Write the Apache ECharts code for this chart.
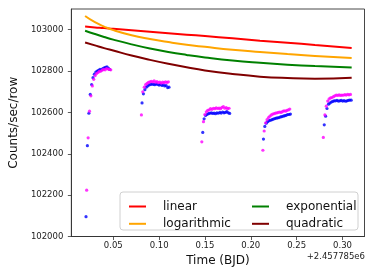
<!DOCTYPE html>
<html>
<head>
<meta charset="utf-8">
<script src="https://cdn.jsdelivr.net/npm/echarts@6/dist/echarts.min.js"></script>
<style>html,body{margin:0;padding:0;background:#fff}#c{width:374px;height:272px}</style>
</head>
<body>
<div id="c"></div>
<script>
// ---- data (time offsets from 2.457785e6 BJD, counts/sec/row) ----
var blueTimes = [
 0.0203,0.0218,0.0234,0.0249,0.0264,0.0279,0.0294,0.0310,0.0325,0.0340,0.0355,0.0370,0.0386,0.0401,0.0416,0.0431,0.0446,0.0461,
 0.0814,0.0829,0.0845,0.0860,0.0876,0.0891,0.0907,0.0922,0.0938,0.0953,0.0969,0.0984,0.1000,0.1015,0.1031,0.1046,0.1062,0.1077,0.1093,0.1108,
 0.1476,0.1491,0.1507,0.1522,0.1538,0.1553,0.1569,0.1584,0.1600,0.1615,0.1631,0.1646,0.1662,0.1677,0.1693,0.1708,0.1724,0.1739,0.1755,0.1770,
 0.2138,0.2153,0.2169,0.2184,0.2200,0.2215,0.2231,0.2246,0.2262,0.2277,0.2293,0.2308,0.2324,0.2339,0.2355,0.2370,0.2386,0.2401,0.2417,0.2432,
 0.2801,0.2816,0.2831,0.2847,0.2862,0.2878,0.2893,0.2909,0.2924,0.2940,0.2955,0.2971,0.2986,0.3002,0.3017,0.3033,0.3048,0.3064,0.3079,0.3095
];
var blueValues = [
 102096,102439,102596,102687,102735,102768,102785,102795,102800,102803,102808,102806,102812,102815,102818,102820,102814,102808,
 102646,102690,102710,102722,102728,102733,102735,102737,102736,102734,102738,102735,102732,102736,102730,102733,102728,102730,102720,102722,
 102503,102569,102585,102590,102594,102596,102598,102595,102597,102594,102598,102596,102600,102597,102602,102598,102600,102604,102598,102595,
 102471,102532,102548,102555,102560,102562,102565,102568,102570,102572,102574,102575,102578,102580,102582,102584,102586,102590,102590,102592,
 102540,102582,102619,102640,102645,102650,102653,102656,102656,102658,102655,102656,102658,102655,102657,102654,102656,102658,102660,102659
];
var magentaTimes = [
 0.0210,0.0226,0.0241,0.0256,0.0272,0.0287,0.0303,0.0318,0.0334,0.0349,0.0365,0.0380,0.0396,0.0411,0.0427,0.0442,0.0458,0.0473,
 0.0807,0.0822,0.0838,0.0853,0.0869,0.0884,0.0900,0.0915,0.0931,0.0946,0.0962,0.0977,0.0993,0.1008,0.1024,0.1039,0.1055,0.1070,0.1086,0.1101,
 0.1466,0.1484,0.1499,0.1515,0.1530,0.1546,0.1561,0.1577,0.1592,0.1608,0.1623,0.1639,0.1654,0.1670,0.1685,0.1701,0.1716,0.1732,0.1747,0.1763,
 0.2132,0.2146,0.2162,0.2177,0.2193,0.2208,0.2224,0.2239,0.2255,0.2270,0.2286,0.2301,0.2317,0.2332,0.2348,0.2363,0.2379,0.2394,0.2410,0.2425,
 0.2791,0.2808,0.2823,0.2839,0.2854,0.2870,0.2885,0.2901,0.2916,0.2932,0.2947,0.2963,0.2978,0.2994,0.3009,0.3025,0.3040,0.3056,0.3071,0.3087
];
var magentaValues = [
 102224,102477,102606,102680,102728,102760,102778,102788,102793,102798,102800,102804,102808,102806,102812,102810,102808,102806,
 102588,102700,102722,102735,102740,102745,102748,102750,102748,102752,102746,102749,102744,102747,102742,102746,102744,102748,102745,102748,
 102458,102555,102590,102603,102610,102612,102618,102615,102620,102618,102622,102619,102621,102618,102624,102628,102620,102623,102618,102620,
 102417,102510,102550,102565,102575,102582,102588,102592,102594,102597,102598,102600,102602,102600,102605,102608,102606,102610,102612,102616,
 102479,102588,102630,102655,102665,102670,102672,102676,102680,102684,102682,102685,102682,102684,102683,102686,102684,102687,102685,102687
];
var fitTimes = [0.0193,0.03,0.04,0.05,0.07,0.09,0.11,0.13,0.15,0.18,0.21,0.24,0.27,0.31];
var linearValues      = [103015,103011,103008,103004,102997,102990,102983,102976,102969,102958,102947,102937,102926,102912];
var logarithmicValues = [103066,103036,103015,102998,102973,102955,102940,102927,102917,102903,102892,102882,102873,102863];
var exponentialValues = [102995,102979,102965,102952,102929,102909,102892,102878,102866,102851,102840,102831,102824,102817];
var quadraticValues   = [102938,102924,102911,102899,102875,102854,102835,102818,102803,102786,102773,102766,102763,102768];
var xTicks = [0.05,0.10,0.15,0.20,0.25,0.30];
var yTicks = [102000,102200,102400,102600,102800,103000];
var fitNames = ['linear','logarithmic','exponential','quadratic'];
var fitColors = ['#ff0000','#ffa500','#008000','#800000'];

function zip(a,b){var r=[];for(var i=0;i<a.length;i++)r.push([a[i],b[i]]);return r;}

var fitSets = [linearValues, logarithmicValues, exponentialValues, quadraticValues];
var series = [
 {type:'scatter',name:'blue',data:zip(blueTimes,blueValues),symbolSize:3.2,itemStyle:{color:'#0000ff'},silent:true,z:2},
 {type:'scatter',name:'magenta',data:zip(magentaTimes,magentaValues),symbolSize:3.2,itemStyle:{color:'#ff00ff'},silent:true,z:2}
];
fitNames.forEach(function(n,i){
  series.push({type:'line',name:n,data:zip(fitTimes,fitSets[i]),smooth:true,showSymbol:false,symbol:'none',
    lineStyle:{color:fitColors[i],width:2},itemStyle:{color:fitColors[i]},z:3});
});

var chart = echarts.init(document.getElementById('c'),null,{renderer:'canvas'});
chart.setOption({
  animation:false,
  backgroundColor:'#fff',
  grid:{left:59,right:9.5,top:9,bottom:35.5,show:true,borderColor:'#333',borderWidth:0.9,backgroundColor:'transparent'},
  xAxis:{type:'value',min:0.0043,max:0.324,
    axisLine:{show:true,onZero:false,lineStyle:{color:'#333',width:0.9}},
    axisTick:{show:true,customValues:xTicks,length:3.5,lineStyle:{color:'#333',width:0.8}},
    axisLabel:{customValues:xTicks,margin:4.5,formatter:function(v){return v.toFixed(2);},
      fontFamily:'DejaVu Sans',fontSize:8.5,color:'#222'},
    splitLine:{show:false},
    name:'Time (BJD)',nameLocation:'middle',nameGap:14.5,
    nameTextStyle:{fontFamily:'DejaVu Sans',fontSize:12,color:'#111'}},
  yAxis:{type:'value',min:102000,max:103100,
    axisLine:{show:true,onZero:false,lineStyle:{color:'#333',width:0.9}},
    axisTick:{show:true,customValues:yTicks,length:3.5,lineStyle:{color:'#333',width:0.8}},
    axisLabel:{customValues:yTicks,margin:8,formatter:function(v){return String(Math.round(v));},
      fontFamily:'DejaVu Sans',fontSize:8.5,color:'#222'},
    splitLine:{show:false},
    name:'Counts/sec/row',nameLocation:'middle',nameGap:42,
    nameTextStyle:{fontFamily:'DejaVu Sans',fontSize:12,color:'#111'}},
  legend:[
    {data:['linear','logarithmic'],orient:'vertical',left:124,top:194.5,itemWidth:17,itemHeight:2,itemGap:3.3,
     icon:'rect',z:6,textStyle:{fontFamily:'DejaVu Sans',fontSize:12,color:'#111',lineHeight:14,padding:[0,0,0,12]},selectedMode:false},
    {data:['exponential','quadratic'],orient:'vertical',left:247,top:194.5,itemWidth:17,itemHeight:2,itemGap:3.3,
     icon:'rect',z:6,textStyle:{fontFamily:'DejaVu Sans',fontSize:12,color:'#111',lineHeight:14,padding:[0,0,0,12]},selectedMode:false}
  ],
  graphic:[
    {type:'rect',shape:{x:120,y:192,width:238,height:38,r:3},z:5,
     style:{fill:'rgba(255,255,255,0.85)',stroke:'#d0d0d0',lineWidth:1}},
    {type:'text',right:9,top:252,z:5,
     style:{text:'+2.457785e6',fontFamily:'DejaVu Sans',fontSize:8.5,fill:'#222'}}
  ],
  series:series
});
</script>
</body>
</html>
